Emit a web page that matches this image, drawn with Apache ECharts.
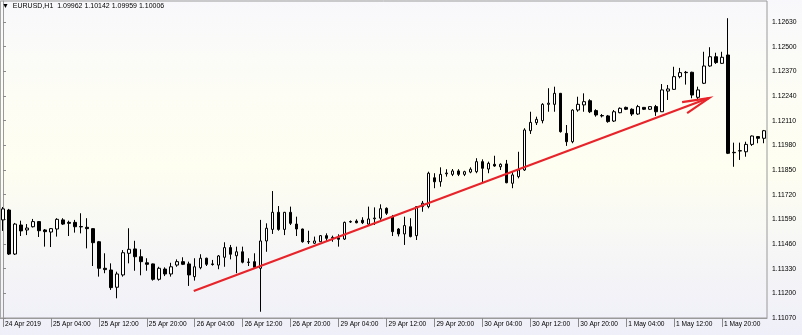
<!DOCTYPE html>
<html><head><meta charset="utf-8">
<script src="https://cdn.jsdelivr.net/npm/echarts@6/dist/echarts.min.js"></script>
<style>
html,body{margin:0;padding:0;width:802px;height:335px;overflow:hidden;
background:linear-gradient(to bottom,#f8f8fc 0%,#fdfdf5 28%,#fefef1 50%,#f7f7f6 72%,#efeff9 100%);}
#c{width:802px;height:335px;}
</style></head><body><div id="c"></div>
<script>
// ---- x categories (hourly bars, H1) ----
const sessions = [['24 Apr',20,23],['25 Apr',0,23],['26 Apr',0,23],['29 Apr',0,23],['30 Apr',0,23],['1 May',0,23],['2 May',0,3]];
const categories = [];
sessions.forEach(([d,a,b]) => { for (let h=a; h<=b; h++) categories.push(d + ' ' + String(h).padStart(2,'0') + ':00'); });

const tickLabels = ['24 Apr 2019','25 Apr 04:00','25 Apr 12:00','25 Apr 20:00','26 Apr 04:00','26 Apr 12:00','26 Apr 20:00','29 Apr 04:00','29 Apr 12:00','29 Apr 20:00','30 Apr 04:00','30 Apr 12:00','30 Apr 20:00','1 May 04:00','1 May 12:00','1 May 20:00'];
const yTicks = [1.11070,1.11200,1.11330,1.11460,1.11590,1.11720,1.11850,1.11980,1.12110,1.12240,1.12370,1.12500,1.12630];

// ---- OHLC ----
const opens = [1.11587,1.11639,1.11407,1.11560,1.11534,1.11551,1.11578,1.11534,1.11523,1.11539,
1.11587,1.11574,1.11574,1.11552,1.11548,1.11541,1.11472,1.11332,1.11323,1.11232,
1.11297,1.11411,1.11434,1.11393,1.11361,1.11355,1.11274,1.11328,1.11302,1.11349,
1.11367,1.11355,1.11288,1.11335,1.11385,1.11355,1.11349,1.11390,1.11441,1.11398,
1.11419,1.11365,1.11367,1.11332,1.11476,1.11537,1.11627,1.11537,1.11627,1.11565,
1.11539,1.11473,1.11464,1.11472,1.11504,1.11490,1.11493,1.11486,1.11578,1.11581,
1.11585,1.11565,1.11593,1.11596,1.11648,1.11604,1.11539,1.11513,1.11551,1.11504,
1.11657,1.11657,1.11809,1.11788,1.11830,1.11827,1.11845,1.11827,1.11839,1.11841,
1.11894,1.11855,1.11880,1.11867,1.11882,1.11780,1.11815,1.11850,1.12057,1.12099,
1.12110,1.12196,1.12196,1.12254,1.12043,1.11999,1.12166,1.12193,1.12215,1.12163,
1.12137,1.12135,1.12108,1.12152,1.12180,1.12170,1.12145,1.12180,1.12170,1.12184,
1.12157,1.12266,1.12275,1.12342,1.12365,1.12365,1.12233,1.12307,1.12398,1.12447,
1.12412,1.12456,1.11943,1.11950,1.11946,1.11985,1.12026,1.12017];
const closes = [1.11645,1.11407,1.11565,1.11529,1.11544,1.11578,1.11530,1.11525,1.11541,1.11590,
1.11565,1.11569,1.11551,1.11550,1.11541,1.11467,1.11332,1.11325,1.11230,1.11302,
1.11414,1.11432,1.11393,1.11367,1.11353,1.11274,1.11332,1.11302,1.11340,1.11367,
1.11353,1.11297,1.11340,1.11385,1.11353,1.11352,1.11397,1.11441,1.11406,1.11419,
1.11364,1.11363,1.11337,1.11476,1.11543,1.11627,1.11537,1.11627,1.11569,1.11539,
1.11472,1.11471,1.11476,1.11504,1.11490,1.11495,1.11485,1.11574,1.11576,1.11572,
1.11572,1.11592,1.11597,1.11646,1.11622,1.11525,1.11513,1.11557,1.11499,1.11657,
1.11675,1.11833,1.11788,1.11827,1.11834,1.11845,1.11827,1.11841,1.11854,1.11894,
1.11859,1.11885,1.11871,1.11880,1.11783,1.11824,1.11850,1.12061,1.12101,1.12117,
1.12196,1.12202,1.12254,1.12052,1.11999,1.12166,1.12196,1.12210,1.12157,1.12140,
1.12135,1.12105,1.12157,1.12175,1.12170,1.12145,1.12184,1.12170,1.12184,1.12157,
1.12272,1.12277,1.12342,1.12363,1.12363,1.12245,1.12272,1.12398,1.12447,1.12416,
1.12444,1.11938,1.11941,1.11952,1.11985,1.12029,1.12017,1.12057];
const lows = [1.11529,1.11402,1.11402,1.11502,1.11507,1.11547,1.11497,1.11446,1.11444,1.11499,
1.11560,1.11502,1.11520,1.11516,1.11437,1.11344,1.11288,1.11306,1.11218,1.11174,
1.11288,1.11358,1.11319,1.11295,1.11319,1.11267,1.11267,1.11291,1.11288,1.11340,
1.11349,1.11239,1.11267,1.11327,1.11344,1.11346,1.11327,1.11340,1.11379,1.11306,
1.11358,1.11344,1.11332,1.11103,1.11419,1.11513,1.11530,1.11507,1.11560,1.11502,
1.11467,1.11460,1.11460,1.11471,1.11472,1.11472,1.11446,1.11481,1.11571,1.11569,
1.11565,1.11560,1.11560,1.11587,1.11613,1.11502,1.11500,1.11455,1.11495,1.11481,
1.11630,1.11648,1.11754,1.11762,1.11815,1.11818,1.11818,1.11818,1.11833,1.11833,
1.11783,1.11833,1.11867,1.11850,1.11780,1.11754,1.11806,1.11845,1.12040,1.12087,
1.12096,1.12157,1.12157,1.12047,1.11977,1.11991,1.12157,1.12157,1.12150,1.12131,
1.12127,1.12099,1.12103,1.12149,1.12166,1.12135,1.12140,1.12166,1.12166,1.12135,
1.12156,1.12219,1.12272,1.12333,1.12300,1.12228,1.12219,1.12303,1.12394,1.12409,
1.12409,1.11934,1.11867,1.11903,1.11920,1.11977,1.11991,1.11991];
const highs = [1.11655,1.11645,1.11571,1.11583,1.11565,1.11592,1.11581,1.11539,1.11544,1.11596,
1.11596,1.11583,1.11587,1.11622,1.11596,1.11543,1.11476,1.11411,1.11358,1.11314,
1.11428,1.11543,1.11477,1.11432,1.11385,1.11357,1.11340,1.11337,1.11361,1.11379,
1.11390,1.11367,1.11385,1.11406,1.11388,1.11376,1.11402,1.11469,1.11455,1.11446,
1.11446,1.11385,1.11411,1.11587,1.11569,1.11739,1.11660,1.11629,1.11657,1.11604,
1.11541,1.11530,1.11499,1.11507,1.11516,1.11504,1.11511,1.11578,1.11584,1.11590,
1.11601,1.11657,1.11653,1.11669,1.11653,1.11613,1.11544,1.11604,1.11596,1.11660,
1.11687,1.11841,1.11833,1.11864,1.11854,1.11855,1.11854,1.11846,1.11864,1.11912,
1.11906,1.11894,1.11925,1.11885,1.11903,1.11841,1.11946,1.12070,1.12157,1.12131,
1.12202,1.12281,1.12289,1.12256,1.12087,1.12170,1.12236,1.12254,1.12223,1.12170,
1.12145,1.12140,1.12166,1.12180,1.12184,1.12175,1.12193,1.12182,1.12186,1.12193,
1.12303,1.12298,1.12394,1.12388,1.12372,1.12368,1.12289,1.12473,1.12497,1.12468,
1.12473,1.12650,1.11994,1.11994,1.11999,1.12032,1.12029,1.12061];

// ---- red trend arrow annotation (bar index, price) ----
const arrowShaft = [[31.83,1.11212],[117.83,1.12229]];
const arrowHead  = [[113.33,1.12208],[117.83,1.12229],[114.17,1.12150]];

const headerText = '\u25BC  EURUSD,H1  1.09962 1.10142 1.09959 1.10006';

const xTickIdx = tickLabels.map((t,k) => k === 0 ? 0 : categories.indexOf(t));
const candleData = categories.map((_, i) => [i, opens[i], closes[i], lows[i], highs[i]]);

const FONT = 'Liberation Sans';
const chart = echarts.init(document.getElementById('c'), null, {renderer:'canvas'});
chart.setOption({
  animation: false,
  backgroundColor: 'transparent',
  title: { text: headerText, left: 2, top: 3, padding: 0,
    textStyle: { fontSize: 7, fontWeight: 'normal', color: '#000', fontFamily: FONT } },
  grid: { left: -1, right: 35, top: 1, bottom: 17, show: true, borderColor: '#9a9a9a', borderWidth: 1, backgroundColor: 'transparent' },
  xAxis: {
    type: 'value', min: -0.5, max: categories.length - 0.5,
    axisLine: { show: true, lineStyle: { color: '#9a9a9a', width: 1 } },
    axisTick: { show: true, customValues: xTickIdx, length: 9, lineStyle: { color: '#8a8a8a' } },
    axisLabel: { show: true, customValues: xTickIdx, align: 'left', margin: 3, padding: [0,0,0,2],
      fontSize: 6.6, color: '#000', fontFamily: FONT,
      formatter: v => tickLabels[xTickIdx.indexOf(Math.round(v))] || '' },
    splitLine: { show: false }
  },
  yAxis: {
    type: 'value', position: 'right', min: 1.11070, max: 1.127406,
    axisLine: { show: true, lineStyle: { color: '#9a9a9a', width: 1 } },
    axisTick: { show: true, customValues: yTicks, length: 3, lineStyle: { color: '#8a8a8a' } },
    axisLabel: { show: true, customValues: yTicks, margin: 5, fontSize: 6.8, color: '#000', fontFamily: FONT,
      formatter: v => v.toFixed(5) },
    splitLine: { show: false }
  },
  graphic: [{ type: 'line', shape: { x1: 0.5, y1: 1, x2: 0.5, y2: 318 }, style: { stroke: '#a8a8a8', lineWidth: 1 }, silent: true }],
  series: [
    { type: 'candlestick', data: candleData, barWidth: 3, silent: true,
      itemStyle: { color: '#ffffff', color0: '#000000', borderColor: '#000000', borderColor0: '#000000', borderWidth: 1 } },
    { type: 'line', data: arrowShaft, showSymbol: false, silent: true, z: 5,
      lineStyle: { color: '#e8242b', width: 2.2 } },
    { type: 'line', data: arrowHead, showSymbol: false, silent: true, z: 5,
      lineStyle: { color: '#e8242b', width: 2.2, join: 'miter' } }
  ]
});
</script></body></html>
